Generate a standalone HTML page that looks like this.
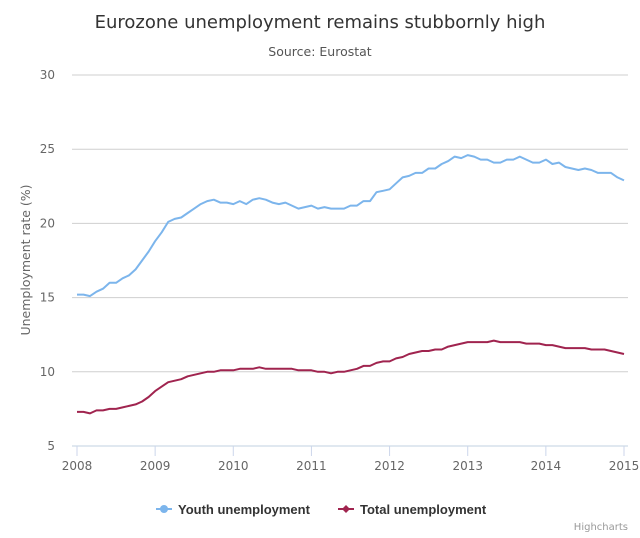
<!DOCTYPE html>
<html><head><meta charset="utf-8"><style>
body{margin:0;background:#fff;font-family:"Liberation Sans","DejaVu Sans",sans-serif;}
svg text{font-family:"DejaVu Sans","Liberation Sans",sans-serif;}
</style></head><body>
<svg id="chart" width="640" height="533">
<text x="320" y="28" text-anchor="middle" font-size="18" fill="#333">Eurozone unemployment remains stubbornly high</text>
<text x="320" y="56" text-anchor="middle" font-size="12.5" fill="#555">Source: Eurostat</text>
<text transform="translate(30,260) rotate(-90)" text-anchor="middle" font-size="12.5" fill="#666">Unemployment rate (%)</text>
<g id="grid"></g><g id="xaxis"></g><g id="series"></g>
<g>
<g>
<line x1="156" y1="509" x2="172" y2="509" stroke="#7cb5ec" stroke-width="2"/><circle cx="164" cy="509" r="4" fill="#7cb5ec"/>
<text x="178" y="514" font-size="13" font-weight="bold" fill="#333" style="font-family:'Liberation Sans',sans-serif">Youth unemployment</text></g>
<g>
<line x1="338" y1="509" x2="354" y2="509" stroke="#a0244f" stroke-width="2"/><path d="M346 505 L350 509 L346 513 L342 509 Z" fill="#a0244f"/>
<text x="360" y="514" font-size="13" font-weight="bold" fill="#333" style="font-family:'Liberation Sans',sans-serif">Total unemployment</text></g>
</g>
<text x="628" y="530" text-anchor="end" font-size="10" fill="#999">Highcharts</text>
</svg>
<script>
const years=[2008,2009,2010,2011,2012,2013,2014,2015];
const yTicks=[5,10,15,20,25,30];
const youth=[15.2,15.2,15.1,15.4,15.6,16.0,16.0,16.3,16.5,16.9,17.5,18.1,
18.8,19.4,20.1,20.3,20.4,20.7,21.0,21.3,21.5,21.6,21.4,21.4,
21.3,21.5,21.3,21.6,21.7,21.6,21.4,21.3,21.4,21.2,21.0,21.1,
21.2,21.0,21.1,21.0,21.0,21.0,21.2,21.2,21.5,21.5,22.1,22.2,
22.3,22.7,23.1,23.2,23.4,23.4,23.7,23.7,24.0,24.2,24.5,24.4,
24.6,24.5,24.3,24.3,24.1,24.1,24.3,24.3,24.5,24.3,24.1,24.1,
24.3,24.0,24.1,23.8,23.7,23.6,23.7,23.6,23.4,23.4,23.4,23.1,22.9];
const total=[7.3,7.3,7.2,7.4,7.4,7.5,7.5,7.6,7.7,7.8,8.0,8.3,
8.7,9.0,9.3,9.4,9.5,9.7,9.8,9.9,10.0,10.0,10.1,10.1,
10.1,10.2,10.2,10.2,10.3,10.2,10.2,10.2,10.2,10.2,10.1,10.1,
10.1,10.0,10.0,9.9,10.0,10.0,10.1,10.2,10.4,10.4,10.6,10.7,
10.7,10.9,11.0,11.2,11.3,11.4,11.4,11.5,11.5,11.7,11.8,11.9,
12.0,12.0,12.0,12.0,12.1,12.0,12.0,12.0,12.0,11.9,11.9,11.9,
11.8,11.8,11.7,11.6,11.6,11.6,11.6,11.5,11.5,11.5,11.4,11.3,11.2];
const NS="http://www.w3.org/2000/svg";
const X0=77,X1=624,Y5=446,Y30=75;
function xs(m){return X0+(X1-X0)*m/84;}
function ys(v){return Y5+(Y30-Y5)*(v-5)/25;}
function mk(tag,attrs,parent){const e=document.createElementNS(NS,tag);for(const k in attrs)e.setAttribute(k,attrs[k]);parent.appendChild(e);return e;}
const grid=document.getElementById('grid');
yTicks.forEach(t=>{
 const l=mk('line',{x1:72,x2:628,y1:ys(t),y2:ys(t),stroke:t===5?'#c0d0e0':'#cfcfcf','stroke-width':1},grid);
 
 
 const tx=mk('text',{x:55,y:ys(t)+4,'text-anchor':'end','font-size':12,fill:'#666'},grid);
 tx.textContent=t;
 
 
});
const xa=document.getElementById('xaxis');
years.forEach((y,i)=>{
 const x=xs(i*12);
 const l=mk('line',{x1:x,x2:x,y1:446,y2:456,stroke:'#ccd6eb'},xa);
 
 
 const tx=mk('text',{x:x,y:470,'text-anchor':'middle','font-size':12,fill:'#666'},xa);
 tx.textContent=y;
 
 
});
const sg=document.getElementById('series');
function line(data,color,name){
 const d=data.map((v,i)=>(i?'L':'M')+xs(i).toFixed(1)+' '+ys(v).toFixed(1)).join(' ');
 const p=mk('path',{d:d,fill:'none',stroke:color,'stroke-width':2,'stroke-linejoin':'round'},sg);
 
 
}
line(youth,'#7cb5ec','youth-unemployment-line');
line(total,'#a0244f','total-unemployment-line');
</script>
</body></html>
